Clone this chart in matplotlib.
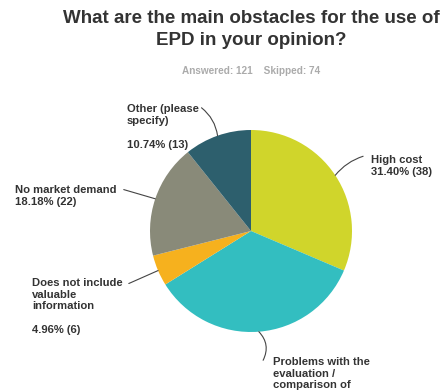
import matplotlib
matplotlib.use("Agg")
from matplotlib import pyplot as plt
import numpy as np

plt.rcParams['font.family'] = ['Liberation Sans', 'DejaVu Sans']

# survey answers, in clockwise order from 12 o'clock
answers = ["High cost",
           "Problems with the\nevaluation /\ncomparison of",
           "Does not include\nvaluable\ninformation",
           "No market demand",
           "Other (please\nspecify)"]
counts = [38, 42, 6, 22, 13]
colors = ["#d0d52b", "#33bec0", "#f6b11e", "#898a79", "#2d5f6d"]
answered, skipped = 121, 74

# label text placement and leader line end (pie units, radius = 1)
text_pos = [(1.19, 0.75), (0.22, -1.245), (-2.17, -0.465), (-2.34, 0.455), (-1.23, 1.255)]
line_end = [(1.11, 0.74), (0.12, -1.28), (-1.21, -0.52), (-1.26, 0.41), (-0.49, 1.22)]
rad = [0.15, 0.35, 0.0, 0.0, -0.2]

fig = plt.figure(figsize=(4.43, 3.91), dpi=100)
ax = fig.add_axes([150 / 443, 59 / 391, 202 / 443, 202 / 391])

wedges, _ = ax.pie(counts, colors=colors, startangle=90, counterclock=False,
                   radius=1, wedgeprops=dict(linewidth=0))
ax.set_xlim(-1, 1)
ax.set_ylim(-1, 1)
ax.set_aspect("equal")
ax.axis("off")

total = sum(counts)
for w, name, n, tp, le, r in zip(wedges, answers, counts, text_pos, line_end, rad):
    mid = np.deg2rad((w.theta1 + w.theta2) / 2)
    edge = (np.cos(mid), np.sin(mid))
    pct = f"{n / total * 100:.2f}% ({n})"
    if name.startswith("Problems"):
        label = name
    elif "\n" in name:
        label = name + "\n\n" + pct
    else:
        label = name + "\n" + pct
    ax.annotate("", xy=edge, xytext=le,
                arrowprops=dict(arrowstyle="-", color="#444444", lw=0.8,
                                connectionstyle=f"arc3,rad={r}",
                                shrinkA=0, shrinkB=0),
                annotation_clip=False)
    ax.text(tp[0], tp[1], label, ha="left", va="top", fontsize=8.1,
            fontweight="bold", color="#333333", linespacing=1.22)

fig.text(0.567, 0.975, "What are the main obstacles for the use of\nEPD in your opinion?",
         ha="center", va="top", fontsize=13.5, fontweight="bold",
         color="#333333", linespacing=1.4)
fig.text(0.567, 0.818, f"Answered: {answered}    Skipped: {skipped}",
         ha="center", va="center", fontsize=7.2, fontweight="bold", color="#ababab")

fig.savefig("out.png", dpi=100)
